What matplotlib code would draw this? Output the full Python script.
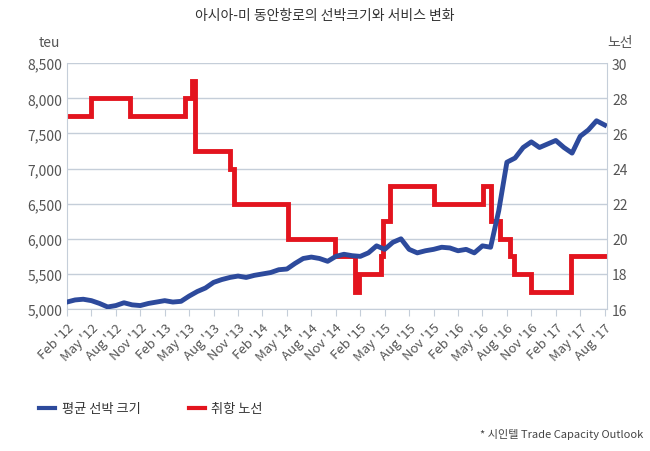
import matplotlib
matplotlib.use("Agg")
import matplotlib.pyplot as plt
from matplotlib import font_manager

names = sorted({f.name for f in font_manager.fontManager.ttflist if "CJK" in f.name})
kr = [n for n in names if "KR" in n] or names
plt.rcParams["font.family"] = kr[:1] + ["DejaVu Sans"]

# month index: 0 = Feb 2012
blue_vals = [5100, 5130, 5140, 5120, 5080, 5030, 5050, 5090, 5060, 5050, 5080, 5100,
             5120, 5100, 5110, 5185, 5250, 5300, 5380, 5420, 5450, 5470, 5450, 5480,
             5500, 5520, 5560, 5570, 5650, 5720, 5740, 5720, 5680, 5750, 5780, 5760,
             5750, 5800, 5900, 5850, 5950, 6000, 5850, 5800, 5830, 5850, 5880, 5870,
             5830, 5850, 5800, 5900, 5880, 6400, 7090, 7150, 7300, 7380, 7300, 7350,
             7400, 7300, 7220, 7460, 7550, 7680, 7620]
blue_x = list(range(len(blue_vals)))

red_x = [0, 3, 7.8, 14.5, 15.3, 15.7, 20, 20.5, 21.1, 27.1, 32.9, 35.4, 35.8, 38.5, 38.8, 39.7,
         45, 51.1, 52.1, 53.2, 54.4, 54.9, 57, 61.9, 66.3]
red_vals = [27, 28, 27, 28, 29, 25, 24, 22, 22, 20, 19, 17, 18, 19, 21, 23,
            22, 23, 21, 20, 19, 18, 17, 19, 19]

tick_labels = ["Feb '12", "May '12", "Aug '12", "Nov '12", "Feb '13", "May '13", "Aug '13", "Nov '13",
               "Feb '14", "May '14", "Aug '14", "Nov '14", "Feb '15", "May '15", "Aug '15", "Nov '15",
               "Feb '16", "May '16", "Aug '16", "Nov '16", "Feb '17", "May '17", "Aug '17"]

BLUE = "#2d4a9c"
RED = "#e3141e"
GRAY = "#555555"
GRID = "#c5ced9"

sx, sy = [], []
for i, (x, v) in enumerate(zip(red_x, red_vals)):
    if i > 0:
        sx.append(x); sy.append(red_vals[i - 1])
    sx.append(x); sy.append(v)

fig = plt.figure(figsize=(6.5, 4.52), dpi=100)
ax = fig.add_axes([0.103, 0.314, 0.831, 0.544])
ax2 = ax.twinx()

ax.plot(blue_x, blue_vals, color=BLUE, lw=3.5, zorder=3, solid_joinstyle="round")
ax2.plot(sx, sy, color=RED, lw=3.5, zorder=2, solid_joinstyle="miter", solid_capstyle="butt")
ax.set_zorder(ax2.get_zorder() + 1)
ax.patch.set_visible(False)

ax.set_xlim(0, 66.3)
ax.set_ylim(5000, 8500)
ax2.set_ylim(16, 30)
ax.set_yticks(range(5000, 8501, 500))
ax.set_yticklabels([f"{v:,}" for v in range(5000, 8501, 500)])
ax2.set_yticks(range(16, 31, 2))
ax.set_xticks([i * 3 for i in range(len(tick_labels))])
ax.set_xticklabels(tick_labels, rotation=45, ha="right", rotation_mode="anchor")
ax2.set_axisbelow(True)
ax2.grid(axis="y", color=GRID, lw=1)
for a in (ax, ax2):
    for s in a.spines.values():
        s.set_visible(False)
    a.tick_params(colors=GRAY, labelsize=10, length=0)
ax.spines["bottom"].set_visible(True)
ax.spines["bottom"].set_color(GRID)
ax.tick_params(axis="x", length=5, color=GRID, labelsize=9.5)
ax.spines["left"].set_visible(True); ax.spines["left"].set_color(GRID)
ax2.spines["right"].set_visible(True); ax2.spines["right"].set_color(GRID)

fig.text(0.5, 0.955, "아시아-미 동안항로의 선박크기와 서비스 변화", ha="center", fontsize=10, color="#333333")
fig.text(0.06, 0.895, "teu", fontsize=10, color=GRAY)
fig.text(0.935, 0.895, "노선", fontsize=10, color=GRAY)

fig.lines.append(plt.Line2D([0.06, 0.085], [0.095, 0.095], color=BLUE, lw=3, transform=fig.transFigure))
fig.text(0.095, 0.095, "평균 선박 크기", va="center", fontsize=9.5, color="#333333")
fig.lines.append(plt.Line2D([0.29, 0.315], [0.095, 0.095], color=RED, lw=3, transform=fig.transFigure))
fig.text(0.325, 0.095, "취항 노선", va="center", fontsize=9.5, color="#333333")
fig.text(0.99, 0.03, "* 시인텔 Trade Capacity Outlook", ha="right", fontsize=8, color="#444444")

fig.savefig("out.png", dpi=100)
